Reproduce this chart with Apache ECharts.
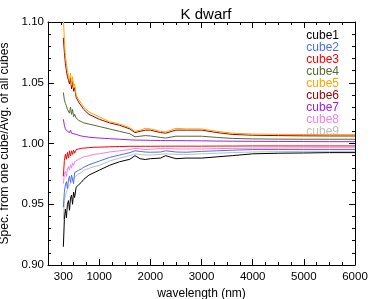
<!DOCTYPE html>
<html>
<head>
<meta charset="utf-8">
<script src="https://cdn.jsdelivr.net/npm/echarts@6/dist/echarts.min.js"></script>
<style>html,body{margin:0;padding:0;background:#fff}#c{width:374px;height:299px}</style>
</head>
<body>
<div id="c"></div>
<script>
var wavelength = [300, 320, 340, 360, 380, 400, 420, 440, 460, 480, 500, 520, 550, 600, 650, 700, 800, 900, 1000, 1200, 1400, 1600, 1700, 1800, 1900, 2000, 2200, 2300, 2500, 2700, 3000, 3300, 3600, 4000, 4500, 5000, 5500, 6000];
var cube1 = [0.915, 0.9376, 0.946, 0.939, 0.950, 0.953, 0.945, 0.955, 0.9576, 0.950, 0.960, 0.9555, 0.964, 0.966, 0.968, 0.9705, 0.974, 0.976, 0.978, 0.982, 0.985, 0.987, 0.990, 0.9875, 0.9868, 0.9875, 0.988, 0.990, 0.9875, 0.988, 0.988, 0.989, 0.990, 0.9915, 0.992, 0.9922, 0.9925, 0.9925];
var cube2 = [0.9475, 0.960, 0.966, 0.9686, 0.963, 0.970, 0.973, 0.968, 0.974, 0.9755, 0.967, 0.976, 0.977, 0.978, 0.979, 0.9805, 0.9825, 0.984, 0.9855, 0.9885, 0.9905, 0.9925, 0.994, 0.9935, 0.993, 0.9928, 0.993, 0.994, 0.993, 0.9928, 0.9935, 0.994, 0.9945, 0.995, 0.995, 0.995, 0.995, 0.995];
var cube3 = [0.973, 0.986, 0.991, 0.987, 0.9926, 0.988, 0.994, 0.990, 0.994, 0.991, 0.9945, 0.992, 0.995, 0.9955, 0.996, 0.9962, 0.9966, 0.9969, 0.997, 0.9973, 0.9975, 0.9977, 0.9977, 0.9977, 0.9977, 0.9977, 0.9978, 0.9978, 0.9978, 0.9978, 0.9978, 0.9979, 0.9979, 0.998, 0.998, 0.998, 0.998, 0.998];
var cube4 = [1.042, 1.036, 1.033, 1.031, 1.028, 1.027, 1.025, 1.030, 1.024, 1.028, 1.022, 1.024, 1.021, 1.019, 1.018, 1.017, 1.016, 1.015, 1.014, 1.012, 1.010, 1.008, 1.0055, 1.006, 1.0065, 1.0062, 1.005, 1.0045, 1.006, 1.006, 1.006, 1.005, 1.0042, 1.0038, 1.0036, 1.0035, 1.0035, 1.0035];
var cube5 = [1.103, 1.085, 1.072, 1.066, 1.060, 1.056, 1.052, 1.058, 1.048, 1.055, 1.046, 1.049, 1.040, 1.036, 1.033, 1.030, 1.026, 1.024, 1.022, 1.018, 1.016, 1.013, 1.010, 1.011, 1.0125, 1.012, 1.010, 1.0095, 1.0125, 1.012, 1.012, 1.010, 1.0085, 1.0078, 1.0075, 1.0074, 1.0073, 1.0073];
var cube6 = [1.087, 1.075, 1.066, 1.060, 1.055, 1.052, 1.049, 1.054, 1.045, 1.051, 1.043, 1.046, 1.038, 1.034, 1.031, 1.028, 1.024, 1.022, 1.020, 1.017, 1.015, 1.012, 1.009, 1.010, 1.011, 1.011, 1.009, 1.0085, 1.011, 1.011, 1.011, 1.009, 1.0075, 1.0068, 1.0065, 1.0063, 1.0062, 1.0062];
var cube7 = [1.020, 1.015, 1.012, 1.011, 1.010, 1.0095, 1.009, 1.011, 1.0085, 1.0095, 1.008, 1.0085, 1.0075, 1.0068, 1.0062, 1.0058, 1.0052, 1.0048, 1.0045, 1.004, 1.0035, 1.003, 1.0028, 1.0028, 1.0027, 1.0026, 1.0025, 1.0024, 1.0024, 1.0023, 1.0022, 1.002, 1.0019, 1.0018, 1.0017, 1.0016, 1.0015, 1.0015];
var cube8 = [0.967, 0.9745, 0.977, 0.973, 0.979, 0.981, 0.978, 0.9825, 0.980, 0.984, 0.982, 0.985, 0.985, 0.987, 0.988, 0.989, 0.990, 0.991, 0.9915, 0.993, 0.994, 0.995, 0.996, 0.9955, 0.995, 0.9953, 0.9958, 0.996, 0.9955, 0.9955, 0.9955, 0.9958, 0.996, 0.9962, 0.9963, 0.9964, 0.9965, 0.9965];
var cube9 = [0.9375, 0.953, 0.957, 0.960, 0.962, 0.964, 0.966, 0.967, 0.968, 0.970, 0.971, 0.972, 0.973, 0.975, 0.976, 0.978, 0.9795, 0.981, 0.982, 0.9855, 0.988, 0.990, 0.9915, 0.991, 0.9905, 0.9905, 0.991, 0.9915, 0.991, 0.991, 0.9915, 0.992, 0.9925, 0.993, 0.9933, 0.9935, 0.9935, 0.9935];
var seriesNames = ['cube1', 'cube2', 'cube3', 'cube4', 'cube5', 'cube6', 'cube7', 'cube8', 'cube9'];
var seriesValues = [cube1, cube2, cube3, cube4, cube5, cube6, cube7, cube8, cube9];
var seriesColors = ['#000000', '#4a6ff0', '#ff0000', '#556b2f', '#ffa500', '#9b0000', '#a020f0', '#ee82ee', '#bebebe'];
var xTickLabels = [300, 1000, 2000, 3000, 4000, 5000, 6000];
var yTickLabels = [0.90, 0.95, 1.00, 1.05, 1.10];

var FONT = 'Liberation Sans';
var chart = echarts.init(document.getElementById('c'), null, {renderer: 'canvas'});

function pairs(vals) {
  return wavelength.map(function (w, i) { return [w, vals[i]]; });
}

var series = seriesNames.map(function (n, k) {
  return {
    name: n, type: 'line', data: pairs(seriesValues[k]), xAxisIndex: 0, yAxisIndex: 0,
    showSymbol: false, symbol: 'none', clip: true, animation: false,
    lineStyle: {width: 1, color: seriesColors[k]}, itemStyle: {color: seriesColors[k]},
    z: 10 - k
  };
});

var xCommon = {
  type: 'value', min: 0, max: 6000, interval: 1000,
  axisLine: {show: true, onZero: false, lineStyle: {color: '#000', width: 1}},
  splitLine: {show: false},
  minorTick: {show: true, splitNumber: 4, length: 3, lineStyle: {color: '#000'}},
  axisTick: {show: true, inside: true, length: 6, lineStyle: {color: '#000'}}
};
var yCommon = {
  type: 'value', min: 0.90, max: 1.10, interval: 0.05,
  axisLine: {show: true, onZero: false, lineStyle: {color: '#000', width: 1}},
  splitLine: {show: false},
  minorTick: {show: true, splitNumber: 5, length: 3, lineStyle: {color: '#000'}},
  axisTick: {show: true, inside: true, length: 6, lineStyle: {color: '#000'}}
};

chart.setOption({
  backgroundColor: '#fff',
  animation: false,
  textStyle: {fontFamily: FONT},
  title: {
    text: 'K dwarf', left: 201, top: 2, textAlign: 'center',
    textStyle: {fontFamily: FONT, fontSize: 15, fontWeight: 'normal', color: '#000'}
  },
  legend: {
    orient: 'vertical', right: 30, top: 25, icon: 'none', itemWidth: 0, itemHeight: 12, itemGap: 0,
    selectedMode: false,
    data: seriesNames.map(function (n, k) {
      return {name: n, textStyle: {color: seriesColors[k]}};
    }),
    textStyle: {fontFamily: FONT, fontSize: 12, lineHeight: 12, padding: 0}
  },
  grid: {left: 48, right: 19, top: 22, bottom: 34, containLabel: false, outerBoundsMode: 'none'},
  xAxis: [
    Object.assign({}, xCommon, {
      position: 'bottom',
      name: 'wavelength (nm)', nameLocation: 'middle', nameGap: 17,
      nameTextStyle: {fontFamily: FONT, fontSize: 12, color: '#000'},
      axisLabel: {show: true, customValues: xTickLabels, margin: 6, fontFamily: FONT, fontSize: 11.5, color: '#000',
        formatter: function (v) { return String(v); }}
    }),
    Object.assign({}, xCommon, {position: 'top', axisLabel: {show: false}})
  ],
  yAxis: [
    Object.assign({}, yCommon, {
      position: 'left',
      name: 'Spec. from one cube/Avg. of all cubes', nameLocation: 'middle', nameGap: 35, nameRotate: 90,
      nameTextStyle: {fontFamily: FONT, fontSize: 12, color: '#000'},
      axisLabel: {show: true, customValues: yTickLabels, margin: 4, fontFamily: FONT, fontSize: 11.5, color: '#000',
        formatter: function (v) { return v.toFixed(2); }}
    }),
    Object.assign({}, yCommon, {position: 'right', axisLabel: {show: false}})
  ],
  series: series
});
</script>
</body>
</html>
